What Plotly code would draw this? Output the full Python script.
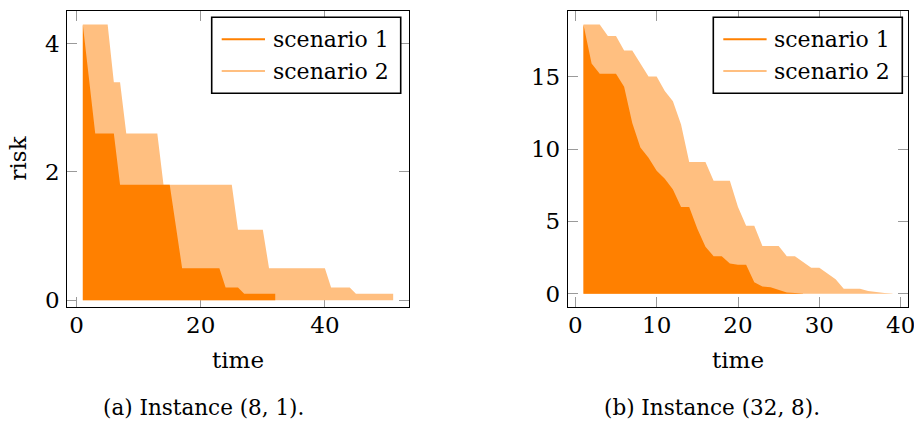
import plotly.graph_objects as go

# ---------------- data ----------------
# Panel (a): Instance (8, 1)
time_a1 = list(range(1, 33))
risk_a1 = [4.3, 3.45, 2.6, 2.6, 2.6, 2.6, 1.8, 1.8, 1.8, 1.8, 1.8, 1.8, 1.8, 1.8, 1.8, 1.15,
           0.5, 0.5, 0.5, 0.5, 0.5, 0.5, 0.5, 0.2, 0.2, 0.2, 0.1, 0.1, 0.1, 0.1, 0.1, 0.1]
time_a2 = list(range(1, 52))
risk_a2 = [4.3, 4.3, 4.3, 4.3, 4.3, 3.4, 3.4, 2.6, 2.6, 2.6, 2.6, 2.6, 2.6,
           1.8, 1.8, 1.8, 1.8, 1.8, 1.8, 1.8, 1.8, 1.8, 1.8, 1.8, 1.8,
           1.1, 1.1, 1.1, 1.1, 1.1, 0.5, 0.5, 0.5, 0.5, 0.5, 0.5, 0.5, 0.5, 0.5, 0.5,
           0.2, 0.2, 0.2, 0.2, 0.1, 0.1, 0.1, 0.1, 0.1, 0.1, 0.1]

# Panel (b): Instance (32, 8)
time_b1 = list(range(1, 29))
risk_b1 = [18.6, 15.9, 15.2, 15.2, 15.2, 14.3, 11.8, 10.1, 9.4, 8.5, 7.95, 7.2, 6.0, 6.0,
           4.5, 3.25, 2.6, 2.6, 2.1, 2.0, 2.0, 0.8, 0.5, 0.45, 0.25, 0.1, 0.05, 0.02]
time_b2 = list(range(1, 40))
risk_b2 = [18.6, 18.6, 18.6, 17.8, 17.8, 16.8, 16.8, 15.9, 15.0, 15.0, 14.0, 13.3, 11.7,
           9.1, 9.1, 9.1, 7.8, 7.8, 7.8, 6.0, 4.7, 4.7, 3.3, 3.3, 3.3, 2.6, 2.6, 2.2,
           1.8, 1.8, 1.4, 1.0, 0.35, 0.35, 0.35, 0.2, 0.1, 0.05, 0.02]

series_names = ["scenario 1", "scenario 2"]
captions = ["(a) Instance (8, 1).", "(b) Instance (32, 8)."]
xticks_a = [0, 20, 40]
yticks_a = [0, 2, 4]
xticks_b = [0, 10, 20, 30, 40]
yticks_b = [0, 5, 10, 15]

# ---------------- style ----------------
DARK = "rgb(255,128,0)"
LIGHT = "rgb(255,191,128)"
FONT = "DejaVu Serif"
FS = 23
W, H = 914, 421

fig = go.Figure()

def add_panel(xa, ya, t1, r1, t2, r2):
    # light (scenario 2) underneath, dark (scenario 1) on top
    fig.add_trace(go.Scatter(x=t2, y=r2, mode="lines", fill="tozeroy", name=series_names[1],
                             fillcolor=LIGHT, line=dict(width=0, color=LIGHT),
                             xaxis=xa, yaxis=ya, showlegend=False, hoverinfo="skip"))
    fig.add_trace(go.Scatter(x=t1, y=r1, mode="lines", fill="tozeroy", name=series_names[0],
                             fillcolor=DARK, line=dict(width=0, color=DARK),
                             xaxis=xa, yaxis=ya, showlegend=False, hoverinfo="skip"))

add_panel("x", "y", time_a1, risk_a1, time_a2, risk_a2)
add_panel("x2", "y2", time_b1, risk_b1, time_b2, risk_b2)

def px_x(p):
    return p / W

def px_y(p):
    return 1 - p / H

axis_common = dict(
    showline=True, linecolor="black", linewidth=1.3, mirror="ticks",
    ticks="inside", ticklen=10, tickwidth=1.2, tickcolor="#9a9a9a",
    showgrid=False, zeroline=False, layer="below traces",
    tickfont=dict(family=FONT, size=FS, color="black"),
    automargin=False, ticklabeloverflow="allow",
)

dom_y = [px_y(307.3), px_y(11)]
fig.update_layout(
    xaxis=dict(domain=[px_x(67.3), px_x(408.7)], range=[-1.5, 53.5],
               tickvals=xticks_a, anchor="y", ticklabelstandoff=-3, **axis_common),
    yaxis=dict(domain=dom_y, range=[-0.11, 4.51], tickvals=yticks_a,
               anchor="x", ticklabelstandoff=2, **axis_common),
    xaxis2=dict(domain=[px_x(568), px_x(908)], range=[-0.9, 40.9],
                tickvals=xticks_b, anchor="y2", ticklabelstandoff=-3, **axis_common),
    yaxis2=dict(domain=dom_y, range=[-0.93, 19.53], tickvals=yticks_b,
                anchor="x2", ticklabelstandoff=2, **axis_common),
)

# ---------------- legends (box, line samples, labels) ----------------
shapes = []
ann = []
for right in (400.7, 902.3):
    left = right - 189
    shapes.append(dict(type="rect", xref="paper", yref="paper",
                       x0=px_x(left), x1=px_x(right), y0=px_y(93.3), y1=px_y(17.3),
                       line=dict(color="black", width=1.6), fillcolor="white", layer="above"))
    for yy, col, name in ((39.3, DARK, series_names[0]), (71.0, LIGHT, series_names[1])):
        shapes.append(dict(type="line", xref="paper", yref="paper",
                           x0=px_x(left + 10), x1=px_x(left + 53.3), y0=px_y(yy), y1=px_y(yy),
                           line=dict(color=col, width=2), layer="above"))
        ann.append(dict(text=name, x=px_x(left + 59), y=px_y(yy), xref="paper", yref="paper",
                        showarrow=False, xanchor="left", yanchor="middle",
                        font=dict(family=FONT, size=22, color="black")))

ann.append(dict(text="risk", x=px_x(17), y=px_y(158.5), xref="paper", yref="paper",
                textangle=-90, showarrow=False, xanchor="center", yanchor="middle",
                font=dict(family=FONT, size=FS, color="black")))
for cx in (238, 738):
    ann.append(dict(text="time", x=px_x(cx), y=px_y(360), xref="paper", yref="paper",
                    showarrow=False, xanchor="center", yanchor="middle",
                    font=dict(family=FONT, size=FS, color="black")))
for cx, cap in zip((203, 712), captions):
    ann.append(dict(text=cap, x=px_x(cx), y=px_y(407), xref="paper", yref="paper",
                    showarrow=False, xanchor="center", yanchor="middle",
                    font=dict(family=FONT, size=21.5, color="black")))

fig.update_layout(
    shapes=shapes,
    annotations=ann,
    showlegend=False,
    width=W, height=H,
    margin=dict(l=0, r=0, t=0, b=0),
    paper_bgcolor="white", plot_bgcolor="white",
)

fig.write_html("out.html", config={"displayModeBar": False})
